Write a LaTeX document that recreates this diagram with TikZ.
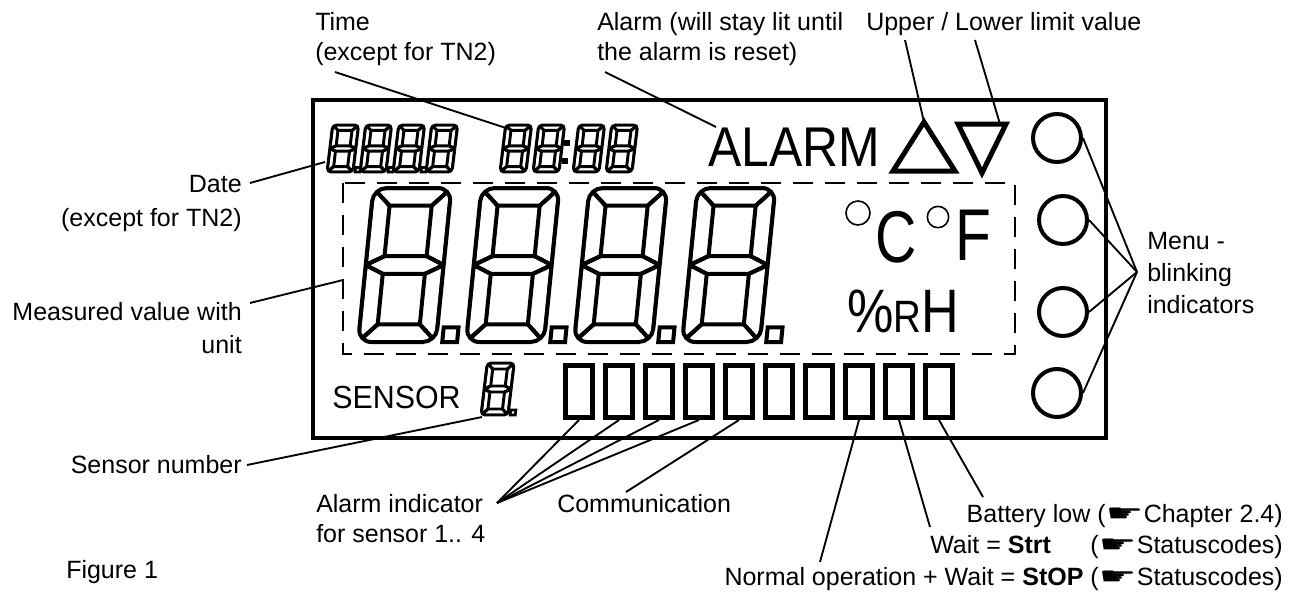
\documentclass[tikz,border=0pt]{standalone}
\usepackage{fontspec}
\setmainfont{Liberation Sans}
\newfontfamily\djv{DejaVu Sans}
\newcommand\hand{\raisebox{0.5pt}{\scalebox{1.7}[0.95]{\djv\symbol{"261B}}}}
\tikzset{
  lbl/.style={inner sep=0pt, font=\fontsize{18.75}{24}\selectfont},
  lead/.style={line width=1.4pt},
  frame/.style={line width=2.5pt},
  dashbox/.style={line width=1.9pt, dash pattern=on 15pt off 9pt},
  lcdcircle/.style={circle, draw, line width=3pt, minimum size=36pt, inner sep=0pt},
  lcdrect/.style={draw, line width=3.75pt, minimum width=20.25pt, minimum height=39pt, inner sep=0pt},
  tri/.style={line width=3.75pt, line join=miter},
  sevenseg/.pic={
    \begin{scope}
      \clip[rounded corners=#1] (0,0) rectangle (1,-2);
      \draw[line join=round] (0,-2) -- (1,-2) -- (0.77,-1.77) -- (0.23,-1.77) -- cycle;
      \draw[line join=round] (0,-2) -- (0.23,-1.77) -- (0.23,-1.115) -- (0,-1) -- cycle;
      \draw[line join=round] (1,-2) -- (1,-1) -- (0.77,-1.115) -- (0.77,-1.77) -- cycle;
      \draw[line join=round] (0,-1) -- (0.23,-1.115) -- (0.77,-1.115) -- (1,-1) -- (0.77,-0.885) -- (0.23,-0.885) -- cycle;
      \draw[line join=round] (0,-1) -- (0.23,-0.885) -- (0.23,-0.23) -- (0,0) -- cycle;
      \draw[line join=round] (1,-1) -- (1,0) -- (0.77,-0.23) -- (0.77,-0.885) -- cycle;
      \draw[line join=round] (0,0) -- (0.23,-0.23) -- (0.77,-0.23) -- (1,0) -- cycle;
    \end{scope}
    \draw[rounded corners=#1] (0,0) rectangle (1,-2);
  },
  segdot/.pic={\draw (1.08,0) rectangle (1.27,-0.19);},
}
\begin{document}
\begin{tikzpicture}[x=0.75pt,y=-0.75pt]
\useasboundingbox (0,0) rectangle (1293,593);
% LCD frame and dashed value area
\draw[frame] (313,100) rectangle (1106,438);
\draw[dashbox] (343,183) rectangle (1015,354);
% big digits
\foreach \x in {358,466,574,682} {
  \pic[line width=3pt, xslant=0.1, xscale=78, yscale=77] at (\x,342) {sevenseg=10pt};
  \pic[line width=3pt, xslant=0.1, xscale=78, yscale=77] at (\x,342) {segdot};
}
% date digits
\foreach \x in {327,360,393,426} {
  \pic[line width=2.2pt, xslant=0.12, xscale=26, yscale=23.5] at (\x,172) {sevenseg=3pt};
}
\foreach \x in {327,360,393} {
  \pic[line width=2pt, xslant=0.12, xscale=26, yscale=23.5] at (\x,172) {segdot};
}
% time digits
\foreach \x in {500,533,573,606} {
  \pic[line width=2.2pt, xslant=0.12, xscale=26, yscale=23.5] at (\x,172) {sevenseg=3pt};
}
\fill (564,140) rectangle (570,146);
\fill (562,158) rectangle (568,164);
% sensor digit
\pic[line width=2.2pt, xslant=0.12, xscale=27, yscale=26] at (481,415) {sevenseg=3pt};
\pic[line width=2pt, xslant=0.12, xscale=27, yscale=26] at (481,415) {segdot};
% ALARM and limit triangles
\node[inner sep=0pt, anchor=base west, font=\fontsize{42}{42}\selectfont] (alarmtxt) at (708,166) {\scalebox{0.89}[1]{ALARM}};
\draw[tri] (893,171) -- (955,171) -- (924,122) -- cycle;
\draw[tri] (958,124) -- (1006,124) -- (982,173) -- cycle;
% units
\draw[line width=1.2pt] (858,213) circle[radius=9pt];
\node[inner sep=0pt, anchor=base west, font=\fontsize{55}{55}\selectfont] (unitC) at (875,262) {\scalebox{0.78}[1]{C}};
\draw[line width=1.2pt] (938,217) circle[radius=8pt];
\node[inner sep=0pt, anchor=base west, font=\fontsize{55}{55}\selectfont] (unitF) at (955,260) {\scalebox{0.8}[1]{F}};
\node[inner sep=0pt, anchor=base west, font=\fontsize{46}{46}\selectfont] (unitRH) at (847,332) {\scalebox{0.85}[1]{\%{\fontsize{34}{34}\selectfont R}H}};
% SENSOR
\node[inner sep=0pt, anchor=base west, font=\fontsize{24}{24}\selectfont] (sensortxt) at (332,408) {\scalebox{0.95}[1]{SENSOR}};
% menu circles
\node[lcdcircle] (c1) at (1057,138) {};
\node[lcdcircle] (c2) at (1063,220) {};
\node[lcdcircle] (c3) at (1063,312) {};
\node[lcdcircle] (c4) at (1057,393) {};
% status rectangles
\foreach \i in {1,...,10} {
  \node[lcdrect] (r\i) at ({539+40*\i},391.5) {};
}
% labels
\node[lbl, anchor=base west] (timeA) at (315,30) {Time};
\node[lbl, anchor=base west] (timeB) at (315,60) {(except for TN2)};
\node[lbl, anchor=base west] (alarmA) at (597,30) {Alarm (will stay lit until};
\node[lbl, anchor=base west] (alarmB) at (597,60) {the alarm is reset)};
\node[lbl, anchor=base west] (limit) at (866,30) {Upper / Lower limit value};
\node[lbl, anchor=base east] (dateA) at (242,192) {Date};
\node[lbl, anchor=base east] (dateB) at (242,226) {(except for TN2)};
\node[lbl, anchor=base east] (measA) at (242,320) {Measured value with};
\node[lbl, anchor=base east] (measB) at (242,353) {unit};
\node[lbl, anchor=base west] (menuA) at (1147,249) {Menu -};
\node[lbl, anchor=base west] (menuB) at (1147,281) {blinking};
\node[lbl, anchor=base west] (menuC) at (1147,313) {indicators};
\node[lbl, anchor=base east] (sensnum) at (242,473) {Sensor number};
\node[lbl, anchor=base west] (alindA) at (316,512) {Alarm indicator};
\node[lbl, anchor=base west] (alindB) at (316,542) {for sensor 1.. 4};
\node[lbl, anchor=base west] (comm) at (557,512) {Communication};
\node[lbl, anchor=base east] (batt) at (1283,522) {Battery low (\hand Chapter 2.4)};
\node[lbl, anchor=base west] (waitA) at (930,553) {Wait = \textbf{Strt}};
\node[lbl, anchor=base east] (waitB) at (1283,553) {(\hand Statuscodes)};
\node[lbl, anchor=base east] (normal) at (1283,585) {Normal operation + Wait = \textbf{StOP} (\hand Statuscodes)};
\node[lbl, anchor=base west] (fig) at (66,578) {Figure 1};
% leader end points
\coordinate (tL) at (335,72);   \coordinate (tE) at (512,130);
\coordinate (aL) at (605,72);   \coordinate (aE) at (716,127);
\coordinate (uL) at (905,40);   \coordinate (uE) at (924,122);
\coordinate (lL) at (975,40);   \coordinate (lE) at (1000,124);
\coordinate (dL) at (250,183);  \coordinate (dE) at (325,162);
\coordinate (mL) at (250,303);  \coordinate (mE) at (343,280);
\coordinate (menu) at (1137,272);
\coordinate (sL) at (247,465);  \coordinate (sE) at (482,417);
\coordinate (aiL) at (497,503);
\coordinate (cL) at (626,492);
\coordinate (nL) at (820,562);
\coordinate (wL) at (930,527);
\coordinate (bL) at (983,497);
% leaders
\draw[lead] (tL) -- (tE);
\draw[lead] (aL) -- (aE);
\draw[lead] (uL) -- (uE);
\draw[lead] (lL) -- (lE);
\draw[lead] (dL) -- (dE);
\draw[lead] (mL) -- (mE);
\foreach \c in {c1,c2,c3,c4} \draw[lead] (menu) -- (\c.east);
\draw[lead] (sL) -- (sE);
\foreach \r in {r1,r2,r3,r4} \draw[lead] (aiL) -- (\r.south);
\draw[lead] (cL) -- (r5.south);
\draw[lead] (nL) -- (r8.south);
\draw[lead] (wL) -- (r9.south);
\draw[lead] (bL) -- (r10.south);
\end{tikzpicture}
\end{document}
